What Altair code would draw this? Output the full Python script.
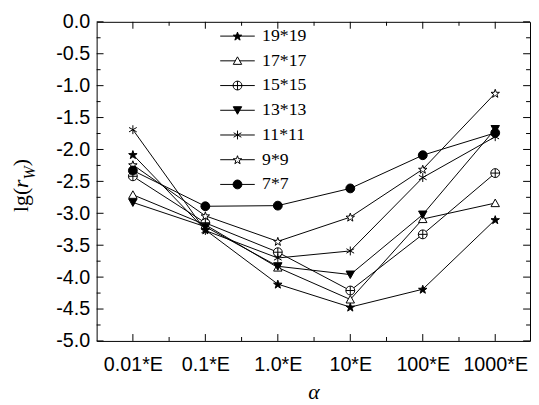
import altair as alt
import pandas as pd

categories = ["0.01*E", "0.1*E", "1.0*E", "10*E", "100*E", "1000*E"]
series_names = ["19*19", "17*17", "15*15", "13*13", "11*11", "9*9", "7*7"]
v_19 = [-2.08, -3.26, -4.11, -4.47, -4.19, -3.10]
v_17 = [-2.71, -3.18, -3.85, -4.35, -3.09, -2.84]
v_15 = [-2.42, -3.15, -3.61, -4.21, -3.33, -2.37]
v_13 = [-2.83, -3.21, -3.83, -3.96, -3.02, -1.68]
v_11 = [-1.69, -3.27, -3.70, -3.59, -2.44, -1.80]
v_9 = [-2.24, -3.04, -3.44, -3.06, -2.31, -1.12]
v_7 = [-2.33, -2.89, -2.88, -2.61, -2.09, -1.74]
series_values = [v_19, v_17, v_15, v_13, v_11, v_9, v_7]

y_major = [0.0, -0.5, -1.0, -1.5, -2.0, -2.5, -3.0, -3.5, -4.0, -4.5, -5.0]
y_minor = [-0.25, -0.75, -1.25, -1.75, -2.25, -2.75, -3.25, -3.75, -4.25, -4.75]
x_major = [0, 1, 2, 3, 4, 5]
x_minor = [0.5, 1.5, 2.5, 3.5, 4.5]

rows = []
for name, vals in zip(series_names, series_values):
    for i, v in enumerate(vals):
        rows.append({"series": name, "xi": i, "alpha": categories[i], "value": v})
df = pd.DataFrame(rows)

# marker shapes (styles)
STAR = ("M0,-0.905L0.235,-0.229L0.951,-0.214L0.38,0.219L0.588,0.904L0,0.495"
        "L-0.588,0.904L-0.38,0.219L-0.951,-0.214L-0.235,-0.229Z")
TRI_UP = "M0,-0.9L0.95,0.8L-0.95,0.8Z"
TRI_DOWN = "M0,0.9L0.95,-0.8L-0.95,-0.8Z"
CIRCLE = "M-1,0A1,1 0 1,0 1,0A1,1 0 1,0 -1,0Z"
CROSS_CIRCLE = CIRCLE + "M-1,0L1,0M0,-1L0,1"
ASTER = "M0,-1L0,1M-0.87,-0.5L0.87,0.5M-0.87,0.5L0.87,-0.5"
marker_paths = [STAR, TRI_UP, CROSS_CIRCLE, TRI_DOWN, ASTER, STAR, CIRCLE]
L = 3.9
legend_paths = [
    f"M-{L},0L{L},0" + STAR,
    f"M-{L},0L-0.5,0M0.5,0L{L},0" + TRI_UP,
    f"M-{L},0L{L},0" + CROSS_CIRCLE,
    f"M-{L},0L{L},0" + TRI_DOWN,
    f"M-{L},0L{L},0" + ASTER,
    f"M-{L},0L-0.67,0M0.67,0L{L},0" + STAR,
    f"M-{L},0L{L},0" + CIRCLE,
]
fills = ["black", "white", "white", "black", "white", "white", "black"]
strokes = ["black"] * 7

W, H = 440, 324
xs = alt.Scale(domain=[-0.5, 5.48], nice=False, zero=False)
ys = alt.Scale(domain=[-5, 0], nice=False, zero=False)

x_axis = alt.Axis(
    values=x_major,
    labelExpr=f"{categories}[round(datum.value)]",
    ticks=False, domain=False, grid=False,
    labelFont="Liberation Sans", labelFontSize=20, labelColor="black",
    labelPadding=14, labelFlush=False,
    title="α", titleFont="Liberation Serif", titleFontSize=22,
    titleFontStyle="italic", titleFontWeight="normal", titleColor="black",
    titlePadding=7,
)
y_axis = alt.Axis(
    values=y_major,
    labelExpr="replace(format(datum.value, '.1f'), '\u2212', '-')",
    ticks=False, domain=False, grid=False,
    labelFont="Liberation Sans", labelFontSize=20, labelColor="black",
    labelPadding=7, labelFlush=False, title=None,
)


def X(field):
    return alt.X(field, scale=xs, axis=x_axis)


def Y(field):
    return alt.Y(field, scale=ys, axis=y_axis)


base = alt.Chart(df)
lines = base.mark_line(color="black", strokeWidth=1).encode(
    x=X("xi:Q"), y=Y("value:Q"), detail="series:N",
)
points = base.mark_point(filled=False, color="black", strokeWidth=1, opacity=1, size=81).encode(
    x=X("xi:Q"), y=Y("value:Q"),
    shape=alt.Shape("series:N", scale=alt.Scale(domain=series_names, range=marker_paths), legend=None),
    fill=alt.Fill("series:N", scale=alt.Scale(domain=series_names, range=fills), legend=None),
    stroke=alt.Stroke("series:N", scale=alt.Scale(domain=series_names, range=strokes), legend=None),
)
leg = alt.Legend(
    title=None, orient="none", legendX=134, legendY=5.5, direction="vertical",
    symbolSize=81, symbolStrokeColor="black", symbolStrokeWidth=1,
    labelFont="Liberation Serif", labelFontSize=18, labelColor="black",
    labelOffset=16, rowPadding=7.1, padding=0,
)
legend_layer = base.transform_filter("false").mark_point(
    filled=False, color="black", strokeWidth=1, opacity=1, size=81
).encode(
    x=X("xi:Q"), y=Y("value:Q"),
    shape=alt.Shape("series:N", scale=alt.Scale(domain=series_names, range=legend_paths), legend=leg),
    fill=alt.Fill("series:N", scale=alt.Scale(domain=series_names, range=fills), legend=leg),
    stroke=alt.Stroke("series:N", scale=alt.Scale(domain=series_names, range=strokes), legend=leg),
)

xmaj = pd.DataFrame({"xi": x_major})
xmin = pd.DataFrame({"xi": x_minor})
ymaj = pd.DataFrame({"value": y_major})
ymin = pd.DataFrame({"value": y_minor})


def xticks(d, y0, y1):
    return alt.Chart(d).mark_rule(color="black", strokeWidth=1).encode(
        x=X("xi:Q"), y=alt.value(y0), y2=alt.value(y1))


def yticks(d, x0, x1):
    return alt.Chart(d).mark_rule(color="black", strokeWidth=1).encode(
        y=Y("value:Q"), x=alt.value(x0), x2=alt.value(x1))


tick_layers = [
    xticks(xmaj, H, H - 7), xticks(xmaj, 0, 7),
    xticks(xmin, H, H - 4), xticks(xmin, 0, 4),
    yticks(ymaj, 0, 7), yticks(ymaj, W, W - 7),
    yticks(ymin, 0, 4), yticks(ymin, W, W - 4),
]


def title_piece(txt, x, y, size, style):
    return alt.Chart(pd.DataFrame({"t": [txt]})).mark_text(
        angle=270, align="left", baseline="alphabetic", font="Liberation Serif",
        fontSize=size, fontStyle=style, color="black",
    ).encode(text="t:N", x=alt.value(x), y=alt.value(y))


title_layers = [
    title_piece("lg(", -70, 193, 22, "normal"),
    title_piece("r", -70, 168.6, 22, "italic"),
    title_piece("W", -63, 160, 16, "italic"),
    title_piece(")", -70, 146.7, 22, "normal"),
]

chart = alt.layer(
    lines, points, legend_layer, *tick_layers, *title_layers
).resolve_scale(
    shape="independent", fill="independent", stroke="independent"
).properties(
    width=W, height=H,
    autosize=alt.AutoSizeParams(type="none"),
    padding={"left": 90, "top": 11, "right": 1, "bottom": 62},
    background="white",
).configure_view(stroke="black", strokeWidth=1)

chart.save("out.html", embed_options={"renderer": "svg", "actions": False})
